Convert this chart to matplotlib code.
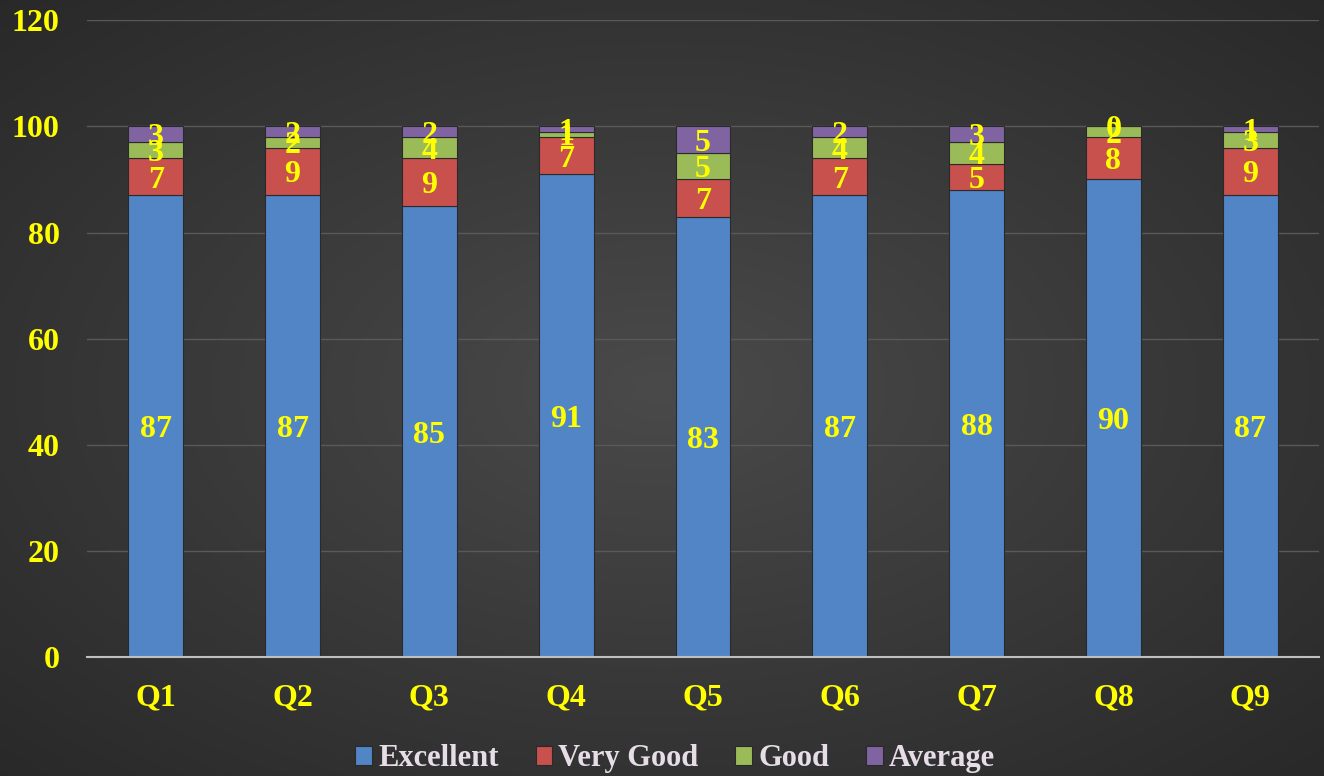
import numpy as np
import matplotlib
matplotlib.use("Agg")
import matplotlib.pyplot as plt

categories = ["Q1", "Q2", "Q3", "Q4", "Q5", "Q6", "Q7", "Q8", "Q9"]
series_names = ["Excellent", "Very Good", "Good", "Average"]
excellent = [87, 87, 85, 91, 83, 87, 88, 90, 87]
very_good = [7, 9, 9, 7, 7, 7, 5, 8, 9]
good = [3, 2, 4, 1, 5, 4, 4, 2, 3]
average = [3, 2, 2, 1, 5, 2, 3, 0, 1]
yticks = [0, 20, 40, 60, 80, 100, 120]

colors = ["#5285C6", "#C8504D", "#9BBB59", "#8064A2"]
series = [excellent, very_good, good, average]

plt.rcParams['font.family'] = ['Liberation Serif', 'DejaVu Serif']

fig = plt.figure(figsize=(13.24, 7.76), dpi=100)

# background radial gradient
bg = fig.add_axes([0, 0, 1, 1])
bg.set_axis_off()
yy, xx = np.mgrid[-1:1:300j, -1:1:500j]
r = np.sqrt(xx**2 + yy**2) / np.sqrt(2)
val = 0.29 - 0.13 * r
img = np.dstack([val, val, val])
bg.imshow(img, aspect='auto', extent=[0, 1, 0, 1], zorder=0)

ax = fig.add_axes([0.066, 0.153, 0.93, 0.821])
ax.set_facecolor('none')
x = np.arange(len(categories))
width = 0.4
bottom = np.zeros(len(categories))
for vals, c, name in zip(series, colors, series_names):
    vals = np.array(vals, dtype=float)
    ax.bar(x, vals, width, bottom=bottom, color=c, edgecolor='#2a2a2a',
           linewidth=0.8, label=name, zorder=3)
    for xi, b, v in zip(x, bottom, vals):
        ax.text(xi, b + v / 2, f"{int(v)}", ha='center', va='center_baseline',
                color='#FFFF00', fontsize=23, fontweight='bold', zorder=5)
    bottom += vals

ax.set_xlim(-0.5, 8.5)
ax.set_ylim(0, 120)
ax.set_yticks(yticks)
ax.set_xticks(x)
ax.set_xticklabels(categories)
ax.tick_params(axis='both', length=0, colors='#FFFF00', labelsize=23)
ax.tick_params(axis='x', pad=19)
ax.tick_params(axis='y', pad=20)
for lab in ax.get_xticklabels() + ax.get_yticklabels():
    lab.set_fontweight('bold')
    lab.set_color('#FFFF00')
ax.grid(axis='y', color='#595959', linewidth=1, zorder=0)
for s in ['top', 'right', 'left']:
    ax.spines[s].set_visible(False)
ax.spines['bottom'].set_color('#BFBFBF')
ax.spines['bottom'].set_linewidth(1.5)
ax.spines['bottom'].set_zorder(4)

leg = fig.legend(loc='lower center', bbox_to_anchor=(0.51, -0.032), ncol=4,
                 frameon=False, fontsize=22, handlelength=0.55, handleheight=0.55,
                 handletextpad=0.2, columnspacing=1.2)
for t in leg.get_texts():
    t.set_color('#E6DDE6')
    t.set_fontweight('bold')

fig.savefig("out.png", dpi=100)
